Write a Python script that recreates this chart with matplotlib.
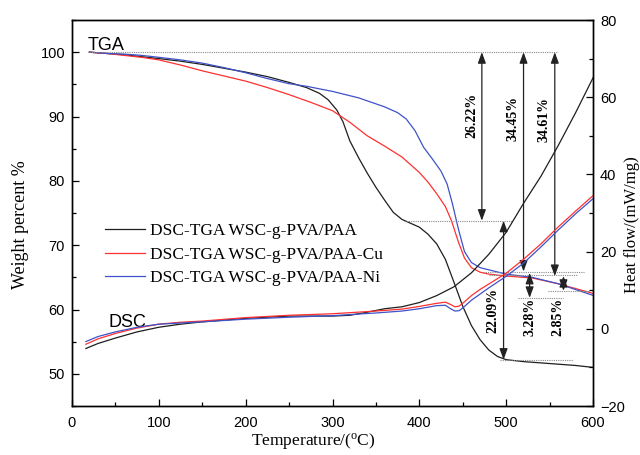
import matplotlib
matplotlib.use("Agg")
import matplotlib.pyplot as plt
from matplotlib.ticker import MultipleLocator

# ---------------- data ----------------
series_names = ["DSC-TGA WSC-g-PVA/PAA", "DSC-TGA WSC-g-PVA/PAA-Cu", "DSC-TGA WSC-g-PVA/PAA-Ni"]
series_colors = ["#1e1e1e", "#ff3030", "#3f52c8"]

# TGA (weight %)
tga_black_x = [20, 40, 60, 80, 100, 125, 150, 175, 200, 225, 250, 270, 285, 295, 305, 312, 320, 330,
               340, 350, 360, 370, 380, 390, 400, 410, 420, 430, 440, 450, 460, 470, 480, 490, 500,
               520, 550, 580, 600]
tga_black_y = [100, 99.8, 99.6, 99.3, 99.0, 98.6, 98.1, 97.5, 96.9, 96.2, 95.3, 94.5, 93.6, 92.6, 91.0,
               89.2, 86.2, 83.6, 81.2, 79.0, 77.0, 75.1, 74.0, 73.4, 72.8, 71.7, 70.2, 67.8, 64.2,
               60.5, 57.5, 55.3, 53.7, 52.7, 52.2, 51.9, 51.6, 51.3, 51.0]

tga_red_x = [20, 40, 60, 80, 100, 125, 150, 175, 200, 225, 250, 275, 300, 320, 340, 360, 380, 400,
             410, 420, 430, 437, 445, 452, 460, 470, 480, 500, 530, 560, 600]
tga_red_y = [100, 99.8, 99.5, 99.2, 98.8, 98.0, 97.1, 96.3, 95.5, 94.5, 93.4, 92.2, 90.9, 89.1, 87.0,
             85.4, 83.7, 81.3, 79.8, 78.0, 76.0, 73.8, 70.5, 68.0, 66.5, 65.8, 65.5, 65.2, 64.9,
             64.0, 62.5]

tga_blue_x = [20, 40, 60, 80, 100, 125, 150, 175, 200, 225, 250, 270, 300, 330, 360, 375, 385, 395,
              405, 415, 425, 432, 438, 445, 452, 460, 470, 485, 500, 530, 560, 600]
tga_blue_y = [100, 99.8, 99.7, 99.5, 99.2, 98.8, 98.3, 97.6, 96.8, 95.9, 95.1, 94.7, 93.9, 92.9,
              91.5, 90.6, 89.6, 87.8, 85.2, 83.4, 81.5, 79.5, 76.5, 72.5, 69.0, 67.3, 66.5, 66.0,
              65.5, 65.0, 64.0, 62.2]

# DSC (heat flow, mW/mg)
dsc_black_x = [16, 30, 50, 75, 100, 125, 150, 200, 250, 300, 320, 340, 360, 380, 400, 420, 440, 460,
               480, 500, 520, 540, 560, 580, 600]
dsc_black_y = [-5.1, -3.8, -2.4, -0.8, 0.4, 1.2, 1.8, 2.7, 3.3, 3.3, 3.5, 4.3, 5.2, 5.7, 6.8, 8.6,
               10.9, 14.5, 19.3, 25.0, 32.5, 39.5, 47.5, 56.0, 65.0]

dsc_red_x = [16, 30, 50, 75, 100, 125, 150, 200, 250, 300, 350, 380, 400, 420, 430, 436, 441, 446,
             452, 460, 470, 480, 500, 520, 540, 560, 580, 600]
dsc_red_y = [-4.0, -2.6, -1.2, 0.2, 1.2, 1.7, 2.0, 2.9, 3.5, 3.9, 4.6, 5.1, 5.8, 6.6, 6.9, 6.3, 5.7,
             5.9, 7.0, 8.6, 10.2, 11.6, 14.4, 18.0, 22.0, 26.4, 30.5, 34.5]

dsc_blue_x = [16, 30, 50, 75, 100, 125, 150, 200, 250, 300, 350, 380, 400, 420, 430, 436, 441, 446,
              452, 460, 470, 480, 500, 520, 540, 560, 580, 600]
dsc_blue_y = [-3.3, -2.0, -0.8, 0.4, 1.2, 1.5, 1.8, 2.5, 3.0, 3.4, 4.1, 4.6, 5.2, 6.0, 6.1, 5.2, 4.6,
              4.7, 5.8, 7.4, 9.0, 10.6, 13.6, 17.0, 21.2, 25.6, 29.8, 33.7]

# annotations: weight-loss arrows (left-axis units)
pct_labels = ["26.22%", "34.45%", "34.61%", "22.09%", "3.28%", "2.85%"]
arrow_x = [472, 520, 556, 497, 527, 566]
arrow_top = [100, 100, 100, 73.8, 65.7, 65.2]
arrow_bottom = [73.8, 65.9, 65.2, 52.2, 61.8, 62.9]
label_x = [460, 508, 543, 485, 527, 560]
label_y = [90.2, 89.7, 89.5, 59.9, 58.9, 58.9]

# dotted reference lines
ref_y = [100, 73.8, 52.2, 65.9, 65.4, 62.9, 61.8]
ref_x0 = [20, 382, 493, 473, 480, 548, 514]
ref_x1 = [560, 507, 577, 590, 581, 596, 565]

# ---------------- plot ----------------
sans = ["Liberation Sans", "DejaVu Sans"]
serif = ["Liberation Serif", "DejaVu Serif"]

fig = plt.figure(figsize=(6.4, 4.55), dpi=100)
ax = fig.add_axes([72 / 640, 1 - 406 / 455, (593 - 72) / 640, (406 - 20) / 455])
ax2 = ax.twinx()

lw = 0.9
tga = [(tga_black_x, tga_black_y), (tga_red_x, tga_red_y), (tga_blue_x, tga_blue_y)]
dsc = [(dsc_black_x, dsc_black_y), (dsc_red_x, dsc_red_y), (dsc_blue_x, dsc_blue_y)]
handles = []
for (tx, ty), (dx, dy), c, name in zip(tga, dsc, series_colors, series_names):
    h, = ax.plot(tx, ty, color=c, lw=lw, label=name)
    ax2.plot(dx, dy, color=c, lw=lw)
    handles.append(h)

for y, x0, x1 in zip(ref_y, ref_x0, ref_x1):
    ax.plot([x0, x1], [y, y], color="#8a8a8a", lw=0.8, ls=(0, (1, 1)))

for x, yt, yb in zip(arrow_x, arrow_top, arrow_bottom):
    ax.annotate("", xy=(x, yb), xytext=(x, yt),
                arrowprops=dict(arrowstyle="<|-|>,head_length=0.6,head_width=0.22",
                                color="#222222", lw=0.9, shrinkA=0, shrinkB=0,
                                mutation_scale=11))

for t, x, y in zip(pct_labels, label_x, label_y):
    ax.text(x, y, t, rotation=90, ha="center", va="center", fontsize=10,
            fontweight="bold", family=serif)

ax.text(18.4, 100.3, "TGA", fontsize=13, family=sans, ha="left", va="baseline")
ax.text(42.6, 57.3, "DSC", fontsize=13, family=sans, ha="left", va="baseline")

ax.set_xlim(0, 600)
ax.set_ylim(45, 105)
ax2.set_ylim(-20, 80)

ax.xaxis.set_major_locator(MultipleLocator(100))
ax.xaxis.set_minor_locator(MultipleLocator(50))
ax.yaxis.set_major_locator(MultipleLocator(10))
ax.yaxis.set_minor_locator(MultipleLocator(5))
ax2.yaxis.set_major_locator(MultipleLocator(20))
ax2.yaxis.set_minor_locator(MultipleLocator(10))
ax.set_yticks([50, 60, 70, 80, 90, 100])

for a in (ax, ax2):
    a.tick_params(which="both", direction="in", labelsize=10.5, width=0.9)
    a.tick_params(which="major", length=5)
    a.tick_params(which="minor", length=3)
    for lab in a.get_xticklabels() + a.get_yticklabels():
        lab.set_family(sans)
    for s in a.spines.values():
        s.set_linewidth(1.0)
ax.tick_params(top=False, right=False)
ax.tick_params(axis="x", pad=7)
ax.tick_params(axis="y", pad=5)
ax2.tick_params(top=False, left=False)
ax2.tick_params(axis="y", pad=5)

ax.set_xlabel("Temperature/($\\mathregular{^o}$C)", fontsize=12.5, family=serif)
ax.xaxis.set_label_coords((313 - 72) / 521, -0.066)
ax.set_ylabel("Weight percent %", fontsize=13, family=serif)
ax.yaxis.set_label_coords((29 - 72) / 521, (406 - 225) / 386)
ax2.set_ylabel("Heat flow/(mW/mg)", fontsize=12, family=serif)
ax2.yaxis.set_label_coords((624 - 72) / 521, (406 - 225) / 386)

leg = ax.legend(handles=handles, loc="upper left", bbox_to_anchor=((105 - 72) / 521, (406 - 223) / 386),
                frameon=False, borderpad=0, borderaxespad=0, handlelength=2.3, handletextpad=0.3,
                labelspacing=0.42, prop={"family": serif, "size": 12.5})

fig.savefig("out.png", dpi=100)
